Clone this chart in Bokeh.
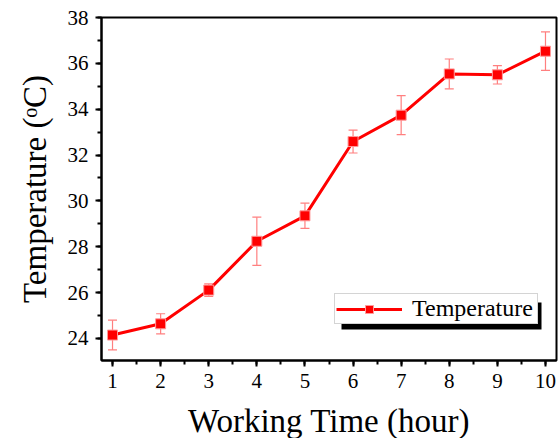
from bokeh.plotting import figure
from bokeh.models import (Range1d, SingleIntervalTicker, ColumnDataSource, Whisker,
                          TeeHead, Legend, LegendItem, BoxAnnotation)
from bokeh.embed import file_html
from bokeh.resources import INLINE

# data
hours = [1, 2, 3, 4, 5, 6, 7, 8, 9, 10]
temperature = [24.15, 24.64, 26.11, 28.24, 29.35, 32.59, 33.74, 35.54, 35.50, 36.53]
error = [0.65, 0.44, 0.27, 1.05, 0.55, 0.50, 0.85, 0.65, 0.40, 0.84]

upper = [t + e for t, e in zip(temperature, error)]
lower = [t - e for t, e in zip(temperature, error)]
src = ColumnDataSource(dict(x=hours, y=temperature, upper=upper, lower=lower))

FONT = "Liberation Serif"

p = figure(width=559, height=438, output_backend="svg", toolbar_location=None,
           x_range=Range1d(0.771, 10.229), y_range=Range1d(23.04, 38.0),
           min_border_left=101, min_border_right=3, min_border_top=17, min_border_bottom=78)
p.frame_height = 343
p.frame_width = 455

p.grid.visible = False
p.outline_line_color = "black"
p.outline_line_width = 2
p.outline_line_alpha = 1

for ax in (p.xaxis[0], p.yaxis[0]):
    ax.axis_line_width = 2
    ax.major_tick_line_width = 2
    ax.minor_tick_line_width = 2
    ax.major_tick_out = 6
    ax.major_tick_in = 0
    ax.minor_tick_out = 4
    ax.minor_tick_in = 0
    ax.major_label_text_font = FONT
    ax.major_label_text_font_size = "21px"
    ax.major_label_text_color = "black"
    ax.axis_label_text_font = FONT
    ax.axis_label_text_font_style = "normal"
    ax.axis_label_text_font_size = "33px"
    ax.axis_label_text_color = "black"

p.xaxis.ticker = SingleIntervalTicker(interval=1, num_minor_ticks=2)
p.yaxis.ticker = SingleIntervalTicker(interval=2, num_minor_ticks=2)
p.xaxis.axis_label = "Working Time (hour)"
p.yaxis.axis_label = "Temperature (ᵒC)"
p.xaxis.major_label_standoff = 7
p.yaxis.major_label_standoff = 7
p.xaxis.axis_label_standoff = 12
p.yaxis.axis_label_standoff = 12

whisk = Whisker(base="x", upper="upper", lower="lower", source=src,
                line_color="#ff7f7f", line_width=1.2,
                upper_head=TeeHead(size=9, line_color="#ff7f7f", line_width=1.2),
                lower_head=TeeHead(size=9, line_color="#ff7f7f", line_width=1.2))
p.add_layout(whisk)

ln = p.line("x", "y", source=src, line_color="red", line_width=3)
mk = p.scatter("x", "y", source=src, marker="square", size=10,
               fill_color="red", line_color="#ff9a9a", line_width=1)

# legend shadow (screen units, relative to the frame's bottom-left)
shadow = BoxAnnotation(left=240, right=440, top=58, bottom=31,
                       left_units="screen", right_units="screen",
                       top_units="screen", bottom_units="screen",
                       fill_color="black", fill_alpha=1, line_alpha=0)
p.add_layout(shadow)

legend = Legend(items=[LegendItem(label="Temperature", renderers=[ln, mk])],
                location=(233, 36), orientation="vertical",
                label_text_font=FONT, label_text_font_size="24px",
                label_text_color="black", glyph_width=66, glyph_height=20,
                label_standoff=10, label_width=124, padding=1, margin=0, spacing=0,
                border_line_color="#aaaaaa", border_line_width=1,
                background_fill_color="white", background_fill_alpha=1)
p.add_layout(legend)

open("out.html", "w").write(file_html(p, INLINE))
